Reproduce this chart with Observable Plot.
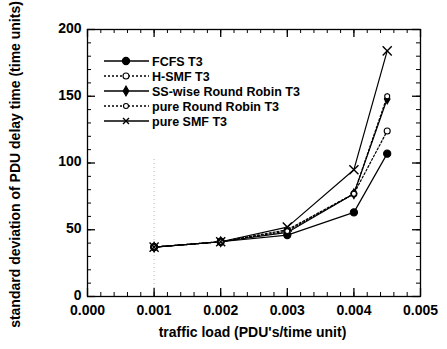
<!DOCTYPE html>
<html>
<head>
<meta charset="utf-8">
<script src="https://cdn.jsdelivr.net/npm/d3@7"></script>
<script src="https://cdn.jsdelivr.net/npm/@observablehq/plot@0.6"></script>
<style>
  html, body { margin: 0; padding: 0; background: #fff; }
  svg { display: block; }
</style>
</head>
<body>
<div id="chart"></div>
<script>
// ---- data ----
const loads = [0.001, 0.002, 0.003, 0.004, 0.0045];
const seriesNames = ["FCFS T3", "H-SMF T3", "SS-wise Round Robin T3", "pure Round Robin T3", "pure SMF T3"];
const fcfs      = [37, 41, 46, 63, 107];
const hSmf      = [37, 41, 50, 77, 124];
const ssWiseRR  = [37, 41, 48, 77, 148];
const pureRR    = [37, 41, 49, 77, 150];
const pureSmf   = [37, 41, 52, 95, 184];
const xTicks = [0, 0.001, 0.002, 0.003, 0.004, 0.005];
const yTicks = [0, 50, 100, 150, 200];
const xMinorTicks = d3.range(0, 0.00501, 0.0002);
const yMinorTicks = d3.range(0, 201, 10);
const xTitle = "traffic load (PDU's/time unit)";
const yTitle = "standard deviation of PDU delay time (time units)";
const guideX = [0.001];
const guideTop = [104];

// ---- styles ----
const styles = [
  {dash: null,  symbol: "circle",  fill: "black", r: 3.6},
  {dash: "2,2", symbol: "circle",  fill: "white", r: 3.0},
  {dash: null,  symbol: "diamond", fill: "black", r: 3.0},
  {dash: "2,2", symbol: "circle",  fill: "white", r: 2.5},
  {dash: null,  symbol: "times",   fill: "none",  r: 4.2}
];
const allValues = [fcfs, hSmf, ssWiseRR, pureRR, pureSmf];
const rows = [];
allValues.forEach((vals, si) => vals.forEach((v, i) => rows.push({series: seriesNames[si], si, x: loads[i], y: v})));

const W = 447, H = 349;
const mL = 87, mR = 27, mT = 29, mB = 53;
const pw = W - mL - mR, ph = H - mT - mB;
const font = "'Liberation Sans', Arial, Helvetica, sans-serif";

const marks = [
  Plot.ruleX(guideX, {x: d => d, y1: 0, y2: guideTop[0], stroke: "#b8b8b8", strokeDasharray: "1,3", strokeWidth: 1})
];
// inward ticks on all four sides
marks.push(Plot.tickX(xMinorTicks, {x: d => d, insetTop: ph - 4, stroke: "black", strokeWidth: 1}));
marks.push(Plot.tickX(xMinorTicks, {x: d => d, insetBottom: ph - 4, stroke: "black", strokeWidth: 1}));
marks.push(Plot.tickX(xTicks, {x: d => d, insetTop: ph - 8, stroke: "black", strokeWidth: 1.3}));
marks.push(Plot.tickX(xTicks, {x: d => d, insetBottom: ph - 8, stroke: "black", strokeWidth: 1.3}));
marks.push(Plot.tickY(yMinorTicks, {y: d => d, insetRight: pw - 4, stroke: "black", strokeWidth: 1}));
marks.push(Plot.tickY(yMinorTicks, {y: d => d, insetLeft: pw - 4, stroke: "black", strokeWidth: 1}));
marks.push(Plot.tickY(yTicks, {y: d => d, insetRight: pw - 8, stroke: "black", strokeWidth: 1.3}));
marks.push(Plot.tickY(yTicks, {y: d => d, insetLeft: pw - 8, stroke: "black", strokeWidth: 1.3}));

seriesNames.forEach((name, si) => {
  const data = rows.filter(r => r.si === si);
  const st = styles[si];
  marks.push(Plot.line(data, {x: "x", y: "y", stroke: "black", strokeWidth: 1.2, strokeDasharray: st.dash}));
});
seriesNames.forEach((name, si) => {
  const data = rows.filter(r => r.si === si);
  const st = styles[si];
  marks.push(Plot.dot(data, {x: "x", y: "y", symbol: () => st.symbol, r: st.r,
    fill: st.symbol === "times" ? "none" : st.fill, stroke: "black", strokeWidth: st.symbol === "times" ? 1.4 : 1.1}));
});
marks.push(Plot.frame({stroke: "black", strokeWidth: 1.3}));
marks.push(Plot.axisX(xTicks, {tickSize: 0, tickPadding: 9, tickFormat: d3.format(".3f"), label: null, fontSize: 14, fontWeight: "bold"}));
marks.push(Plot.axisY(yTicks, {tickSize: 0, tickPadding: 6, dy: -1, label: null, fontSize: 14, fontWeight: "bold"}));

const chart = Plot.plot({
  width: W, height: H,
  marginLeft: mL, marginRight: mR, marginTop: mT, marginBottom: mB,
  style: {fontFamily: font, fontSize: "13px", color: "black", background: "white"},
  x: {domain: [0, 0.005]},
  y: {domain: [0, 200]},
  symbol: {type: "identity"},
  marks
});
document.getElementById("chart").appendChild(chart);

// axis titles and legend
const svg = d3.select(chart);
svg.append("text").attr("x", mL + pw / 2 - 1).attr("y", 337)
  .attr("text-anchor", "middle").attr("font-family", font).attr("font-size", 14).attr("font-weight", "bold").attr("fill", "black")
  .text(xTitle);
svg.append("text").attr("transform", `translate(20,${mT + ph / 2 + 2}) rotate(-90)`)
  .attr("text-anchor", "middle").attr("font-family", font).attr("font-size", 14).attr("font-weight", "bold").attr("fill", "black")
  .text(yTitle);

const lg = svg.append("g");
const symGen = {circle: d3.symbolCircle, diamond: d3.symbolDiamond};
seriesNames.forEach((name, si) => {
  const st = styles[si];
  const y = 61 + si * 15;
  lg.append("line").attr("x1", 104).attr("x2", 149).attr("y1", y).attr("y2", y)
    .attr("stroke", "black").attr("stroke-width", 1.3).attr("stroke-dasharray", st.dash);
  if (st.symbol === "times") {
    const s = 3;
    lg.append("path").attr("d", `M${126 - s},${y - s}L${126 + s},${y + s}M${126 - s},${y + s}L${126 + s},${y - s}`)
      .attr("stroke", "black").attr("stroke-width", 1.4);
  } else {
    const area = Math.PI * st.r * st.r;
    lg.append("path").attr("d", d3.symbol(symGen[st.symbol], area)())
      .attr("transform", `translate(126,${y})`)
      .attr("fill", st.fill).attr("stroke", "black").attr("stroke-width", 1.1);
  }
  lg.append("text").attr("x", 152).attr("y", y + 4.5).attr("text-anchor", "start")
    .attr("font-family", font).attr("font-size", 12.5).attr("font-weight", "bold").attr("fill", "black").text(name);
});
</script>
</body>
</html>
